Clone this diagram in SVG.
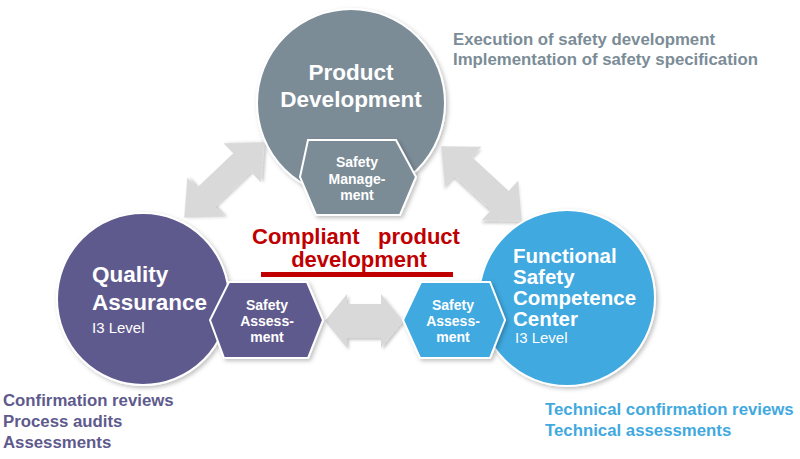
<svg xmlns="http://www.w3.org/2000/svg" width="800" height="459" viewBox="0 0 800 459">
<defs>
  <filter id="sh" x="-20%" y="-20%" width="140%" height="140%">
    <feDropShadow dx="2" dy="2" stdDeviation="2" flood-color="#000" flood-opacity="0.25"/>
  </filter>
  <filter id="ash" x="-20%" y="-20%" width="140%" height="140%">
    <feDropShadow dx="2" dy="2" stdDeviation="1.5" flood-color="#000" flood-opacity="0.22"/>
  </filter>
  <path id="darr" d="M-55,0 L-25,-27 L-25,-13 L25,-13 L25,-27 L55,0 L25,27 L25,13 L-25,13 L-25,27 Z"/>
</defs>
<style>
  text { font-family: "Liberation Sans", Arial, sans-serif; }
  .arrow { fill: #d9d9d9; filter: url(#ash); }
  .shape { stroke: #ffffff; stroke-width: 2; filter: url(#sh); }
  .gray { fill: #7b8c97; }
  .purple { fill: #5e5a8d; }
  .blue { fill: #41a9e0; }
  .big { fill: #ffffff; font-weight: bold; font-size: 22.5px; }
  .mid { fill: #ffffff; font-weight: bold; font-size: 20.5px; }
  .hex { fill: #ffffff; font-weight: bold; font-size: 14px; text-anchor: middle; }
  .lvl { fill: #ffffff; font-size: 15px; }
  .note { font-weight: bold; font-size: 16.8px; }
  .red { fill: #c00000; font-weight: bold; font-size: 22px; }
</style>

<g id="connectors">
  <use href="#darr" class="arrow" transform="translate(224,180) rotate(-43.5)"/>
  <use href="#darr" class="arrow" transform="translate(481.5,183.5) rotate(42.7)"/>
  <path class="arrow" d="M-39,0 L-17,-27 L-17,-17 L17,-17 L17,-27 L39,0 L17,27 L17,17 L-17,17 L-17,27 Z" transform="translate(364,321)"/>
</g>

<g id="node-product-development">
  <circle class="shape gray" cx="351" cy="103" r="94"/>
  <text class="big" x="351" y="80" text-anchor="middle">Product</text>
  <text class="big" x="351" y="107" text-anchor="middle">Development</text>
</g>
<g id="node-safety-management">
  <polygon class="shape gray" points="308,140 396,140 416,177 400,215 316,215 300,177"/>
  <text class="hex" x="357" y="167">Safety</text>
  <text class="hex" x="357" y="184">Manage-</text>
  <text class="hex" x="357" y="200">ment</text>
</g>

<g id="node-quality-assurance">
  <circle class="shape purple" cx="143" cy="299" r="86"/>
  <text class="big" x="92" y="282">Quality</text>
  <text class="big" x="92" y="310">Assurance</text>
  <text class="lvl" x="92" y="333">I3 Level</text>
</g>
<g id="node-qa-safety-assessment">
  <polygon class="shape purple" points="229,282 307,282 323,320 308,358 224,358 210,320"/>
  <text class="hex" x="267" y="310">Safety</text>
  <text class="hex" x="267" y="326">Assess-</text>
  <text class="hex" x="267" y="342">ment</text>
</g>

<g id="node-fscc">
  <circle class="shape blue" cx="567" cy="298" r="88"/>
  <text class="mid" x="513" y="263">Functional</text>
  <text class="mid" x="513" y="284">Safety</text>
  <text class="mid" x="513" y="305">Competence</text>
  <text class="mid" x="513" y="326">Center</text>
  <text class="lvl" x="515" y="343">I3 Level</text>
</g>
<g id="node-fscc-safety-assessment">
  <polygon class="shape blue" points="421,282 490,282 505,320 490,358 420,358 403,320"/>
  <text class="hex" x="453" y="310">Safety</text>
  <text class="hex" x="453" y="326">Assess-</text>
  <text class="hex" x="453" y="342">ment</text>
</g>

<g id="label-compliant">
  <text class="red" x="252" y="244">Compliant<tspan x="378">product</tspan></text>
  <text class="red" x="359" y="267" text-anchor="middle">development</text>
  <rect x="261" y="272" width="192" height="5" fill="#c00000"/>
</g>

<g id="notes-product-development" class="note" fill="#7b8c97">
  <text x="453" y="45">Execution of safety development</text>
  <text x="453" y="65">Implementation of safety specification</text>
</g>
<g id="notes-quality-assurance" class="note" fill="#5e5a8d">
  <text x="3" y="406">Confirmation reviews</text>
  <text x="3" y="427">Process audits</text>
  <text x="3" y="448">Assessments</text>
</g>
<g id="notes-fscc" class="note" fill="#41a9e0">
  <text x="545" y="415">Technical confirmation reviews</text>
  <text x="545" y="436">Technical assessments</text>
</g>
</svg>
